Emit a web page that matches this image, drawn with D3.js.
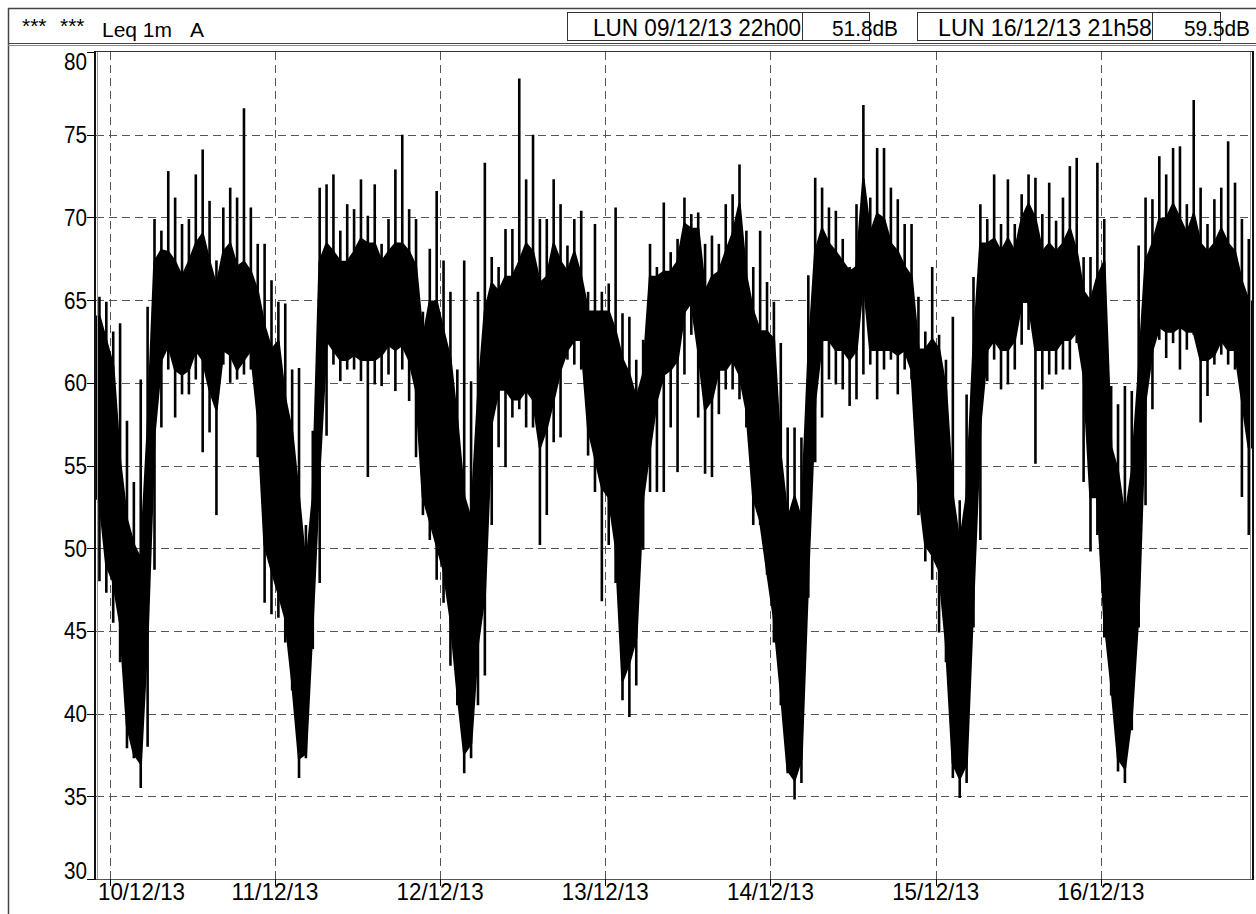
<!DOCTYPE html>
<html><head><meta charset="utf-8">
<script src="https://cdn.jsdelivr.net/npm/d3@7/dist/d3.min.js"></script>
<style>html,body{margin:0;padding:0;background:#fff;}svg{display:block;font-family:"Liberation Sans",Arial,sans-serif;}</style>
</head><body><svg id="c" width="1256" height="914"></svg>
<script>
// ---- data: hourly envelope of the 1-minute Leq (dB A), from 09/12/13 22h00 ----
const startTime = new Date(2013, 11, 9, 22, 0);
const endTime = new Date(2013, 11, 16, 21, 58);
const yTicks = [30, 35, 40, 45, 50, 55, 60, 65, 70, 75, 80];
const xTickLabels = ["10/12/13","11/12/13","12/12/13","13/12/13","14/12/13","15/12/13","16/12/13"];
// highest spike in each hour
const hourMax = [65.2,64.9,63.1,63.6,57.7,54,60.2,64.6,69.9,69.2,72.8,71.2,69.6,69.9,72.6,74.1,71,67.4,70.6,71.8,71.2,76.6,70.6,68.4,
68.4,66.2,64.9,64.8,60.8,60.9,51.4,57.1,71.8,72,72.6,69.2,70.8,70.5,72.3,70.1,72,68.4,69.9,72.9,75,70.5,69.9,64.3,
68.1,71.6,67.4,65.5,60.8,67.4,60.1,65.5,73.3,67.6,67,69.3,69.3,78.4,72.3,75,69.9,69.9,72.3,70.8,68.3,69.9,70.4,65.5,
69.6,65.5,66,70.6,64.2,64,61.4,62.6,68.4,67,70.9,67.9,68.7,71.2,70.2,70.3,68.4,68.9,68.4,70.8,71.4,73.2,69.2,67,
69.2,66.1,64.9,62.4,57.3,57.3,56.7,66.5,72.4,71.8,70.6,70.4,68.7,67,70.8,76.8,71.2,74.2,74.2,71.8,71.1,69.6,69.6,65.2,
63.1,67,62.9,61.4,64,52.9,59.3,66.4,70.8,69.9,72.6,69.6,72.3,69.6,71.4,72.6,72.4,70.2,72.1,69.8,71.2,73.1,73.6,67.6,
67.6,73.3,69.9,59.8,58.7,59.8,59.5,68.3,71.2,71.1,73.7,72.6,74.2,74.3,70.8,77.1,71.8,69.6,71.1,71.8,74.6,72.1,69.9,68.7];
// top of the dense band in each hour
const hourHigh = [64,62.5,61,55.2,51.7,50.2,49.3,57,67.3,68,67.9,67.3,66.4,67.3,68.4,69,67.3,65.8,67.9,68.4,67,67.3,66.7,65.5,
63.4,62,62.5,59,57,53,48.7,53,67.3,68.4,67.9,67.3,67.3,67.9,68.7,68.4,68.4,67.3,67.9,68.4,68.4,67.9,67,62.6,
64.9,64.9,63.1,61.4,57.6,53.1,51.7,59,64.3,66,65.5,66.4,66.4,67.3,68.4,67.9,66,66.4,68.4,67.3,66.7,67.9,66.4,64.3,
64.3,64.3,64.3,63.1,61.4,60.5,59,60.5,66.4,66.4,66.7,66.7,67.3,69.6,69.3,69.3,65.5,66.4,66.7,67.9,69,70.8,66.4,64.3,
63.1,63.1,62.6,55.5,51.7,53.1,51.7,61.4,67.9,69.3,68.4,67.9,67.3,66.7,67,72.3,69,70.2,69.9,68.4,67.9,67,66.4,62,
62,62.6,62,59.6,53.1,50.2,53.1,62,68.4,68.4,68.7,67.9,68.7,67.9,69.9,70.8,69.9,67.9,68.4,67.9,68.4,69.3,67.9,65.5,
64.9,66.4,67.3,56.1,54.6,51.7,54.6,60.5,67.3,68.4,69.9,69.9,70.8,69.9,69,70.2,68.4,67.9,68.4,69.3,68.4,67.9,66.1,64.9];
// bottom of the dense band in each hour
const hourLow = [53,49,48,45.5,39.3,37.6,37,45,57,61.4,62.3,60.8,60.5,60.8,62,61.4,59.6,58.4,62,61.7,60.8,61.4,62,58,
50.2,48.7,47.3,45.8,42,37.3,37.6,45.8,55,62.6,62,61.4,61.4,61.7,61.4,61.4,61.4,61.7,62.3,62,62.3,61.4,59.6,53.1,
51.7,50.2,48.7,45.8,41.4,37.6,38.2,44.3,47.3,57.6,59.6,59.6,59,59,59.6,59,56.1,57.3,59,60.8,62,62.6,62.6,57.3,
55.5,53.7,53.1,50.2,42,43.1,44.6,53.1,56.1,59,60.5,60.8,61.4,64.3,64.9,62,58.4,59,60.8,60.8,61.4,60.5,58.4,53.1,
51.7,48.7,45.8,41.4,36.6,36,37.3,48.7,59,62.6,62.6,62,62,61.4,62,66.4,62,62,62,62,61.7,62,60.8,53.7,
50.2,49.6,48.7,44.3,37,36.1,37,47.3,57.6,62,62.6,62,62,62.6,64.9,64.9,62,62,62,62,62.6,62.6,63.1,60.5,
53.1,53.1,45.8,41.9,37.3,36.7,39.9,46.4,59,62,63.4,63.1,63.1,63.4,63.1,63.1,61.4,61.4,61.7,62.6,62,62,59,56.1];
// lowest dip in each hour
const hourMin = [48,47.3,45.5,43.1,37.9,37.3,35.5,38,48.7,57.3,60.8,57.9,59.3,59.3,60.2,55.8,57,52,61.1,60,60.2,60.5,60.8,55.5,
46.7,46,45.8,44.3,41.4,36.1,37.3,43.9,47.9,56.8,61.1,60.1,60.8,60.8,60.1,54.3,59.9,59.8,60.5,59.5,60.8,58.9,55.5,52,
50.5,48.1,46.7,42.9,40.5,36.4,37.3,40.5,42.3,51.4,56.1,54.9,57.9,58.4,57.3,57.3,50.2,52,56.4,56.7,61.4,61.1,60.8,55.6,
53.4,46.8,50.2,47.9,40.8,39.8,41.7,49.9,53.4,53.4,53.4,57.3,54.6,60.5,62.9,57.9,54.5,54.3,58.1,59.6,59.6,59,57.3,51.4,
51.4,48.4,44.3,40.5,36.4,34.8,35.8,47,55.2,57.9,60.2,59.9,59.6,58.6,59,60.5,61.1,59,60.8,61.4,59.3,60.8,60.2,52,
49.2,48.1,44.9,43.1,36.1,34.9,35.8,45.2,50.5,60.1,61.4,59.6,59.9,60.8,62.3,63.2,55.1,59.6,60.5,60.5,60.8,60.8,62.4,54,
49.8,50.8,44.6,41.1,36.5,35.8,39,45.2,52.6,58.4,62.6,61.5,62.4,60.8,62,62.9,57.6,59.2,61.1,61.7,61.1,60.8,53.1,50.8];
const headerStars = ["***", "***"];
const headerTitle = "Leq 1m", headerWeight = "A";
const headerStart = "LUN 09/12/13 22h00", headerStartVal = "51.8";
const headerEnd = "LUN 16/12/13 21h58", headerEndVal = "59.5";
const unit = "dB";

// ---- drawing ----
const svg = d3.select("#c");
const L = 96, R = 1252, T = 52, B = 879;
const x = d3.scaleTime().domain([startTime, endTime]).range([L, R]);
const y = d3.scaleLinear().domain([30, 80]).range([B, T]);
const hourT = i => d3.timeMinute.offset(startTime, i * 60 + 30);

// outer frame and header
svg.append("rect").attr("x", 8.5).attr("y", 8.5).attr("width", 1260).attr("height", 920)
  .attr("fill", "none").attr("stroke", "#444").attr("stroke-width", 1.5);
svg.append("line").attr("x1", 8).attr("x2", 1256).attr("y1", 43.5).attr("y2", 43.5).attr("stroke", "#444");
svg.append("line").attr("x1", 8).attr("x2", 1256).attr("y1", 45.5).attr("y2", 45.5).attr("stroke", "#888");

const hdr = svg.append("g").attr("fill", "#000");
hdr.append("text").attr("x", 22).attr("y", 33).attr("font-size", 21).text(headerStars[0]);
hdr.append("text").attr("x", 60).attr("y", 33).attr("font-size", 21).text(headerStars[1]);
hdr.append("text").attr("x", 102).attr("y", 37).attr("font-size", 21).text(headerTitle);
hdr.append("text").attr("x", 190).attr("y", 37).attr("font-size", 21).text(headerWeight);

const boxes = [[567, 802], [802, 869], [917, 1152], [1152, 1220]];
boxes.forEach(b => svg.append("rect").attr("x", b[0] + 0.5).attr("y", 12.5).attr("width", b[1] - b[0]).attr("height", 28)
  .attr("fill", "none").attr("stroke", "#333"));
const ht = svg.append("g").attr("fill", "#000");
const htx = (xx, len, fs, s) => ht.append("text").attr("x", xx).attr("y", 36).attr("font-size", fs)
  .attr("textLength", len).attr("lengthAdjust", "spacingAndGlyphs").text(s);
htx(593, 208, 24, headerStart);
htx(832, 66, 21.5, headerStartVal + unit);
htx(938, 214, 24, headerEnd);
htx(1184, 66, 21.5, headerEndVal + unit);

// grid
const days = d3.timeDay.range(d3.timeDay.ceil(startTime), endTime);
const grid = svg.append("g").attr("stroke", "#555").attr("stroke-dasharray", "8,5").attr("stroke-width", 1);
grid.selectAll("line.h").data(yTicks.filter(v => v > 30 && v < 80)).join("line")
  .attr("x1", L).attr("x2", R).attr("y1", d => Math.round(y(d)) + 0.5).attr("y2", d => Math.round(y(d)) + 0.5);
grid.selectAll("line.v").data(days).join("line")
  .attr("x1", d => Math.round(x(d)) + 0.5).attr("x2", d => Math.round(x(d)) + 0.5).attr("y1", T).attr("y2", B);

// data: dense band + hourly extreme spikes
const hours = d3.range(hourMax.length);
const bandPts = [{t: startTime, i: 0}].concat(hours.map(i => ({t: hourT(i), i})), [{t: endTime, i: hours.length - 1}]);
svg.append("path").datum(bandPts)
  .attr("d", d3.area().x(d => x(d.t)).y0(d => y(hourLow[d.i])).y1(d => y(hourHigh[d.i])))
  .attr("fill", "#000").attr("stroke", "#000").attr("stroke-width", 2.5).attr("stroke-linejoin", "round");
svg.append("g").attr("stroke", "#000").attr("stroke-width", 2.6)
  .selectAll("line").data(hours).join("line")
  .attr("x1", i => x(hourT(i))).attr("x2", i => x(hourT(i)))
  .attr("y1", i => y(hourMin[i])).attr("y2", i => y(hourMax[i]));

// plot frame
svg.append("line").attr("x1", 94).attr("x2", R + 1).attr("y1", T - 0.5).attr("y2", T - 0.5).attr("stroke", "#333");
svg.append("line").attr("x1", 94).attr("x2", R + 1).attr("y1", B + 0.5).attr("y2", B + 0.5).attr("stroke", "#555");
svg.append("line").attr("x1", 95).attr("x2", 95).attr("y1", T - 1).attr("y2", B + 1).attr("stroke", "#111").attr("stroke-width", 2);
svg.append("line").attr("x1", 97.5).attr("x2", 97.5).attr("y1", T).attr("y2", B).attr("stroke", "#999");
svg.append("line").attr("x1", R - 1.5).attr("x2", R - 1.5).attr("y1", T).attr("y2", B).attr("stroke", "#999");
svg.append("line").attr("x1", R + 1).attr("x2", R + 1).attr("y1", T - 1).attr("y2", B + 1).attr("stroke", "#111").attr("stroke-width", 2);

// y axis
const ya = svg.append("g").attr("font-size", 24).attr("fill", "#000");
ya.selectAll("line").data(yTicks).join("line")
  .attr("x1", 87).attr("x2", 94).attr("y1", d => Math.round(y(d)) + 0.5).attr("y2", d => Math.round(y(d)) + 0.5).attr("stroke", "#000");
ya.selectAll("text").data(yTicks).join("text")
  .attr("x", 87).attr("text-anchor", "end")
  .attr("y", d => d === 80 ? y(d) + 18 : d === 30 ? y(d) : y(d) + 8.5)
  .attr("textLength", 23).attr("lengthAdjust", "spacingAndGlyphs")
  .text(d => d);

// x axis
const xa = svg.append("g").attr("font-size", 24).attr("fill", "#000");
xa.selectAll("line").data(days).join("line")
  .attr("x1", d => Math.round(x(d)) + 0.5).attr("x2", d => Math.round(x(d)) + 0.5).attr("y1", B).attr("y2", B + 7).attr("stroke", "#000");
xa.selectAll("text").data(days).join("text")
  .attr("x", (d, i) => i === 0 ? 98 : x(d)).attr("y", 900)
  .attr("text-anchor", (d, i) => i === 0 ? "start" : "middle")
  .attr("textLength", 87).attr("lengthAdjust", "spacingAndGlyphs")
  .text((d, i) => xTickLabels[i]);
</script></body></html>
